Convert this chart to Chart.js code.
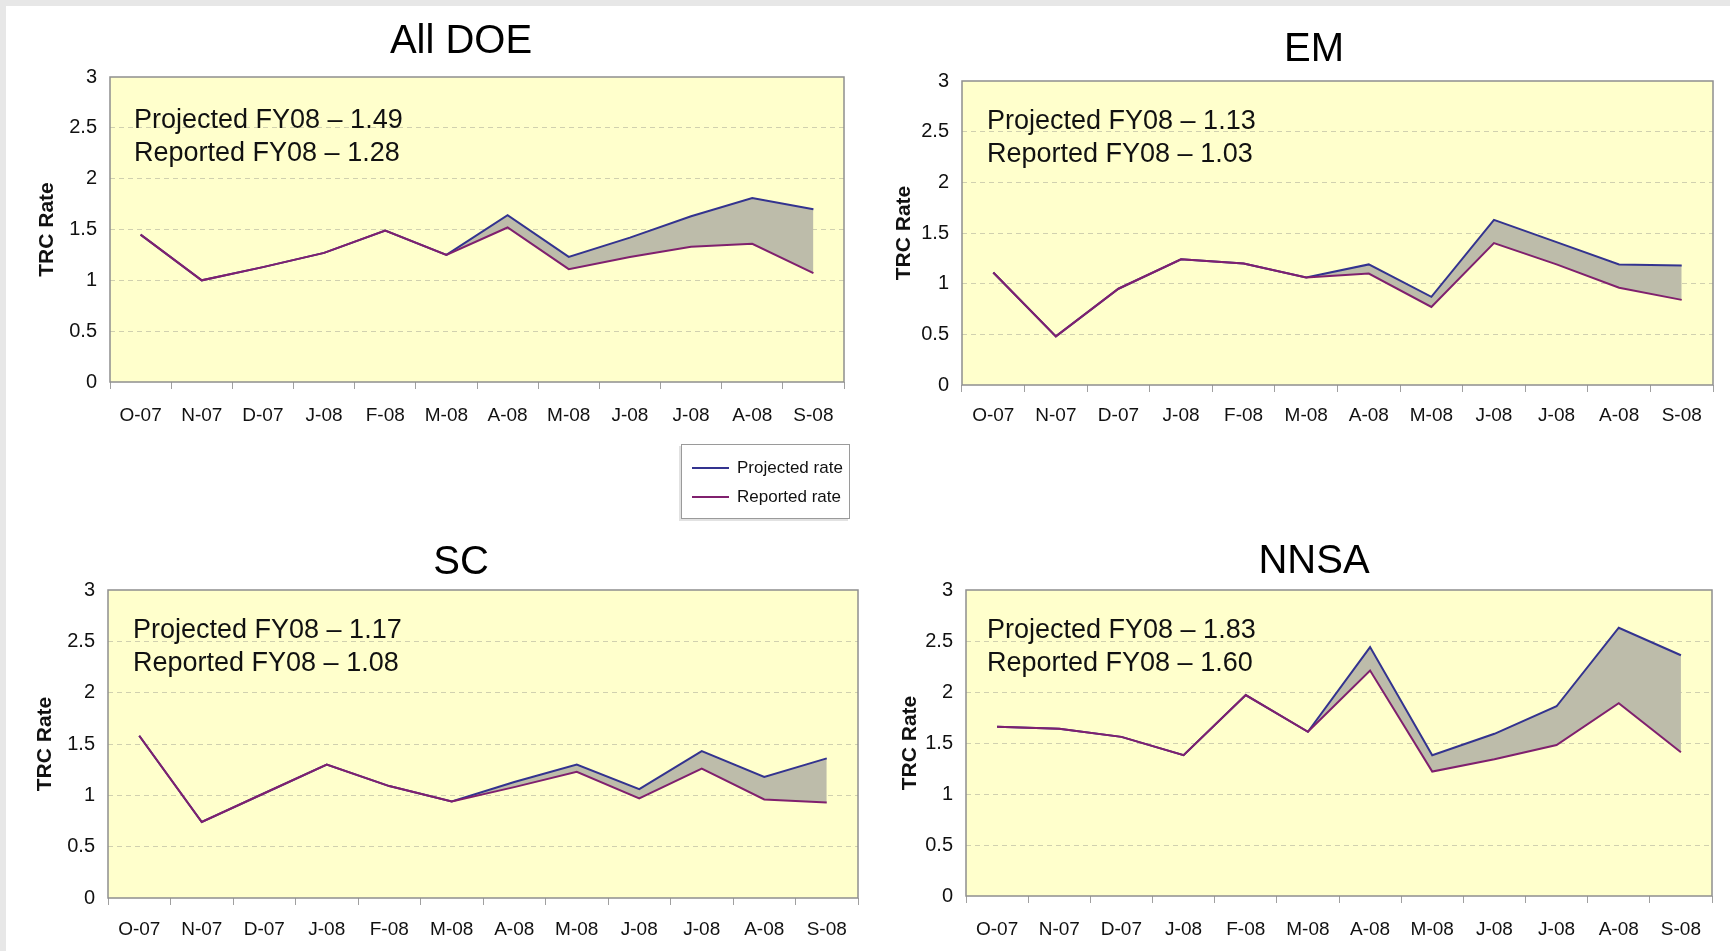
<!DOCTYPE html>
<html>
<head>
<meta charset="utf-8">
<title>TRC Rate FY08</title>
<script src="https://cdn.jsdelivr.net/npm/chart.js@4.4.1/dist/chart.umd.min.js"></script>
<style>
  html, body { margin: 0; padding: 0; background: #fff; }
  body { width: 1730px; height: 951px; position: relative; overflow: hidden; font-family: "Liberation Sans", Arial, sans-serif; }
  .frame-top { position: absolute; left: 0; top: 0; width: 1730px; height: 6px; background: #e7e7e7; z-index: 5; }
  .frame-left { position: absolute; left: 0; top: 0; width: 6px; height: 951px; background: #e7e7e7; z-index: 5; }
  .panel { position: absolute; }
  .legend { position: absolute; left: 681px; top: 444px; width: 167px; height: 73px; border: 1px solid #9a9a9a; background: #fff; box-shadow: -2px 2px 0 #e2e2e2; z-index: 4; }
  .legend .row { position: absolute; left: 0; height: 22px; font-size: 17px; line-height: 22px; color: #111; white-space: nowrap; }
  .legend .swatch { position: absolute; left: 10px; top: 10px; width: 37px; height: 2px; }
  .legend .txt { position: absolute; left: 55px; top: 0; }
</style>
</head>
<body>
<div class="frame-top"></div>
<div class="frame-left"></div>
<div class="legend" id="legend"></div>

<script>
const months = ['O-07', 'N-07', 'D-07', 'J-08', 'F-08', 'M-08', 'A-08', 'M-08', 'J-08', 'J-08', 'A-08', 'S-08'];
const rateTicks = [0, 0.5, 1, 1.5, 2, 2.5, 3];
const seriesNames = ['Projected rate', 'Reported rate'];

// All DOE
const allDoeProjected = [1.45, 1.00, 1.13, 1.27, 1.49, 1.25, 1.64, 1.23, 1.42, 1.63, 1.81, 1.70];
const allDoeReported  = [1.45, 1.00, 1.13, 1.27, 1.49, 1.25, 1.52, 1.11, 1.23, 1.33, 1.36, 1.07];
const allDoeNotes = ['Projected FY08 \u2013 1.49', 'Reported FY08 \u2013 1.28'];

// EM
const emProjected = [1.11, 0.48, 0.95, 1.24, 1.20, 1.06, 1.19, 0.87, 1.63, 1.41, 1.19, 1.18];
const emReported  = [1.11, 0.48, 0.95, 1.24, 1.20, 1.06, 1.10, 0.77, 1.40, 1.19, 0.96, 0.84];
const emNotes = ['Projected FY08 \u2013 1.13', 'Reported FY08 \u2013 1.03'];

// SC
const scProjected = [1.58, 0.74, 1.02, 1.30, 1.09, 0.94, 1.13, 1.30, 1.06, 1.43, 1.18, 1.36];
const scReported  = [1.58, 0.74, 1.02, 1.30, 1.09, 0.94, 1.08, 1.23, 0.97, 1.26, 0.96, 0.93];
const scNotes = ['Projected FY08 \u2013 1.17', 'Reported FY08 \u2013 1.08'];

// NNSA
const nnsaProjected = [1.66, 1.64, 1.56, 1.38, 1.97, 1.61, 2.44, 1.38, 1.59, 1.86, 2.63, 2.36];
const nnsaReported  = [1.66, 1.64, 1.56, 1.38, 1.97, 1.61, 2.21, 1.22, 1.34, 1.48, 1.89, 1.41];
const nnsaNotes = ['Projected FY08 \u2013 1.83', 'Reported FY08 \u2013 1.60'];

const FONT = '"Liberation Sans", Arial, sans-serif';
const PROJECTED_COLOR = '#33338f';
const REPORTED_COLOR = '#80206e';
const GAP_FILL = '#bdbcaa';
const PLOT_BG = '#ffffcc';
const GRID_COLOR = 'rgba(150,150,140,0.45)';

Chart.defaults.font.family = FONT;
Chart.defaults.color = '#111';

function makePanel(box, title, notes, projected, reported) {
  const wrap = document.createElement('div');
  wrap.className = 'panel';
  wrap.style.left = box.left + 'px';
  wrap.style.top = box.top + 'px';
  const canvas = document.createElement('canvas');
  canvas.width = box.width;
  canvas.height = box.height;
  canvas.style.width = box.width + 'px';
  canvas.style.height = box.height + 'px';
  wrap.appendChild(canvas);
  document.body.appendChild(wrap);

  // plot background, border, panel title and the FY08 summary
  const decor = {
    id: 'decor',
    beforeDraw(chart) {
      const { ctx, chartArea: a } = chart;
      ctx.save();
      ctx.fillStyle = PLOT_BG;
      ctx.fillRect(a.left, a.top, a.width, a.height);
      ctx.restore();
    },
    afterDraw(chart) {
      const { ctx, chartArea: a } = chart;
      ctx.save();
      ctx.strokeStyle = '#8f8f8f';
      ctx.lineWidth = 1.5;
      ctx.strokeRect(a.left, a.top, a.width, a.height);
      ctx.fillStyle = '#000';
      ctx.textAlign = 'center';
      ctx.textBaseline = 'middle';
      ctx.font = '40px ' + FONT;
      ctx.fillText(title, box.titleX, box.titleY);
      ctx.textAlign = 'left';
      ctx.fillStyle = '#111';
      ctx.font = '27px ' + FONT;
      notes.forEach((t, i) => ctx.fillText(t, a.left + box.noteX, a.top + box.noteY + i * 33));
      ctx.restore();
    }
  };

  return new Chart(canvas.getContext('2d'), {
    type: 'line',
    data: {
      labels: months,
      datasets: [
        {
          label: seriesNames[1],
          data: reported,
          borderColor: REPORTED_COLOR,
          borderWidth: 2,
          pointRadius: 0,
          tension: 0,
          fill: false
        },
        {
          label: seriesNames[0],
          data: projected,
          borderColor: PROJECTED_COLOR,
          backgroundColor: GAP_FILL,
          borderWidth: 2,
          pointRadius: 0,
          tension: 0,
          fill: '-1'
        }
      ]
    },
    options: {
      responsive: false,
      animation: false,
      devicePixelRatio: 1,
      layout: { padding: box.padding },
      plugins: {
        legend: { display: false },
        title: { display: false },
        tooltip: { enabled: false }
      },
      scales: {
        x: {
          offset: true,
          grid: { offset: true, drawOnChartArea: false, drawTicks: true, tickLength: 7, tickColor: '#a0a0a0' },
          border: { display: false },
          ticks: { autoSkip: false, maxRotation: 0, padding: box.xTickPad, color: '#111', font: { size: 19 } },
          afterFit: (s) => { s.height = box.xHeight; }
        },
        y: {
          min: 0,
          max: 3,
          afterBuildTicks: (s) => { s.ticks = rateTicks.map(v => ({ value: v })); },
          grid: {
            drawTicks: false,
            borderDash: [5, 4],
            color: (c) => (c.tick && (c.tick.value === 0 || c.tick.value === 3)) ? 'rgba(0,0,0,0)' : GRID_COLOR
          },
          border: { display: false, dash: [5, 4] },
          ticks: { padding: 13, color: '#111', font: { size: 20 }, callback: (v) => String(v) },
          title: {
            display: true,
            text: 'TRC Rate',
            color: '#111',
            font: { size: 21, weight: 'bold' },
            padding: { top: 15, bottom: 0 }
          },
          afterFit: (s) => { s.width = box.yWidth; }
        }
      }
    },
    plugins: [decor]
  });
}

makePanel({ left: 0, top: 0, width: 865, height: 470, padding: { left: 20, right: 21, top: 77, bottom: 0 },
  yWidth: 90, xHeight: 88, xTickPad: 15, titleX: 461, titleY: 42, noteX: 24, noteY: 44 },
  'All DOE', allDoeNotes, allDoeProjected, allDoeReported);
makePanel({ left: 865, top: 0, width: 865, height: 470, padding: { left: 12, right: 17, top: 81, bottom: 0 },
  yWidth: 85, xHeight: 85, xTickPad: 12, titleX: 449, titleY: 50, noteX: 25, noteY: 41 },
  'EM', emNotes, emProjected, emReported);
makePanel({ left: 0, top: 470, width: 865, height: 481, padding: { left: 18, right: 7, top: 120, bottom: 0 },
  yWidth: 90, xHeight: 53, xTickPad: 13, titleX: 461, titleY: 93, noteX: 25, noteY: 41 },
  'SC', scNotes, scProjected, scReported);
makePanel({ left: 865, top: 470, width: 865, height: 481, padding: { left: 18, right: 18, top: 120, bottom: 0 },
  yWidth: 83, xHeight: 55, xTickPad: 15, titleX: 449, titleY: 92, noteX: 21, noteY: 41 },
  'NNSA', nnsaNotes, nnsaProjected, nnsaReported);

// shared legend
const legend = document.getElementById('legend');
[PROJECTED_COLOR, REPORTED_COLOR].forEach((color, i) => {
  const row = document.createElement('div');
  row.className = 'row';
  row.style.top = (12 + i * 29) + 'px';
  row.style.width = '100%';
  const sw = document.createElement('span');
  sw.className = 'swatch';
  sw.style.background = color;
  const txt = document.createElement('span');
  txt.className = 'txt';
  txt.textContent = seriesNames[i];
  row.appendChild(sw);
  row.appendChild(txt);
  legend.appendChild(row);
});
</script>
</body>
</html>
